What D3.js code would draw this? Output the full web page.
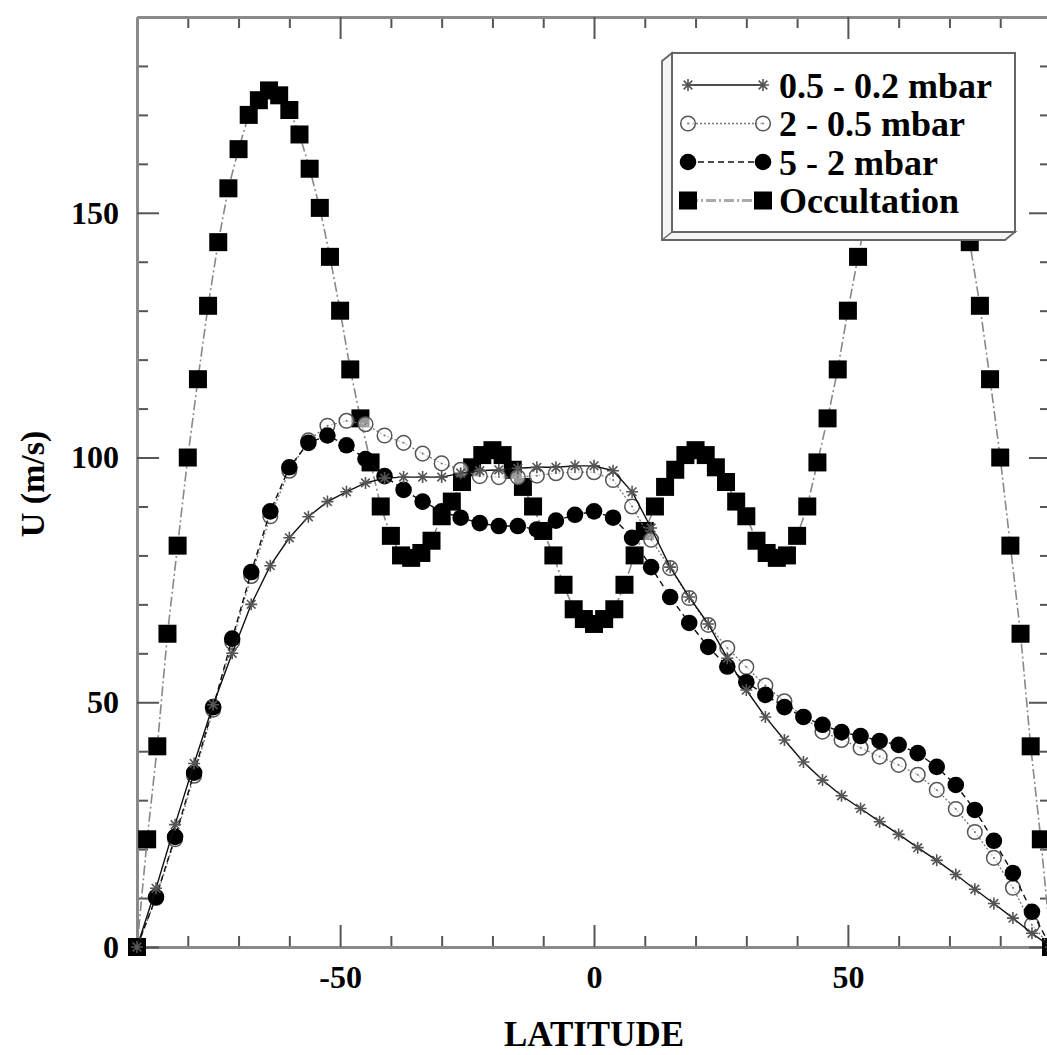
<!DOCTYPE html>
<html>
<head>
<meta charset="utf-8">
<script src="https://cdn.jsdelivr.net/npm/d3@7"></script>
<style>
  html, body { margin: 0; padding: 0; background: #fff; }
  svg { display: block; }
  text { font-family: "Liberation Serif", "DejaVu Serif", serif; font-weight: bold; fill: #000; }
</style>
</head>
<body>
<script>
// latitude grid of the three retrieved levels (every 3.75 deg)
const latLevels = [-90, -86.25, -82.5, -78.75, -75, -71.25, -67.5, -63.75, -60, -56.25, -52.5, -48.75,
  -45, -41.25, -37.5, -33.75, -30, -26.25, -22.5, -18.75, -15, -11.25, -7.5, -3.75,
  0, 3.75, 7.5, 11.25, 15, 18.75, 22.5, 26.25, 30, 33.75, 37.5, 41.25,
  45, 48.75, 52.5, 56.25, 60, 63.75, 67.5, 71.25, 75, 78.75, 82.5, 86.25, 90];

const u02 = [0, 12, 25, 37.5, 49.5, 60, 70, 77.9, 83.6, 87.9, 91, 93,
  94.8, 95.8, 96, 96, 96, 96.8, 97.3, 97.5, 97.8, 98, 98, 98.3,
  98.3, 97.3, 93, 85.6, 77.6, 71.5, 66, 59, 52.5, 47, 42.3, 37.8,
  34.1, 30.9, 28.3, 25.6, 23, 20.3, 17.7, 14.8, 11.8, 8.9, 5.9, 2.8, 0];

const u05 = [0, 10, 22, 35, 48.5, 62.3, 75.8, 88, 97.3, 103.5, 106.5, 107.5,
  106.8, 104.5, 103, 100.8, 98.8, 97.5, 96.2, 96, 96, 96.3, 96.8, 97,
  97, 95.4, 90, 83.2, 77.4, 71.3, 65.8, 61.1, 57.2, 53.4, 50.2, 47,
  44, 42.3, 40.7, 38.9, 37.2, 35.2, 32.1, 28.2, 23.5, 18.2, 12.1, 4.5, 0];

const u2 = [0, 10.2, 22.5, 35.6, 49, 63, 76.6, 89, 98, 103, 104.5, 102.5,
  99.7, 96.2, 93.4, 91, 89, 87.7, 86.6, 86, 86, 85.3, 87.1, 88.3,
  89, 87.7, 83.6, 77.6, 71.5, 66.2, 61.3, 57.3, 54.1, 51.5, 49, 47,
  45.4, 43.9, 43.1, 42.1, 41.3, 39.6, 36.8, 33.1, 28, 21.7, 15.1, 7.2, 0];

// occultation profile (every 2 deg)
const latOcc = [-90, -88, -86, -84, -82, -80, -78, -76, -74, -72, -70, -68, -66, -64, -62, -60,
  -58, -56, -54, -52, -50, -48, -46, -44, -42, -40, -38, -36, -34, -32, -30, -28, -26, -24,
  -22, -20, -18, -16, -14, -12, -10, -8, -6, -4, -2, 0, 2, 4, 6, 8, 10, 12, 14, 16, 18, 20,
  22, 24, 26, 28, 30, 32, 34, 36, 38, 40, 42, 44, 46, 48, 50, 52, 54, 56, 58, 60, 62, 64,
  66, 68, 70, 72, 74, 76, 78, 80, 82, 84, 86, 88, 90];
const uOcc = [0, 22, 41, 64, 82, 100, 116, 131, 144, 155, 163, 170, 173, 175, 174, 171,
  166, 159, 151, 141, 130, 118, 108, 99, 90, 84, 80, 79.5, 80.5, 83, 88, 91, 95, 98,
  100.5, 101.5, 100.5, 97.5, 94, 90, 85, 80, 74, 69, 67, 66, 67, 69, 74, 80, 85, 90, 94, 97.5, 100.5, 101.5,
  100.5, 98, 95, 91, 88, 83, 80.5, 79.5, 80, 84, 90, 99, 108, 118, 130, 141, 151, 159, 166, 171, 174, 175,
  173, 170, 163, 155, 144, 131, 116, 100, 82, 64, 41, 22, 0];

const xMajor = [-50, 0, 50];
const xMinor = [-80, -70, -60, -40, -30, -20, -10, 10, 20, 30, 40, 60, 70, 80];
const yMajor = [0, 50, 100, 150];
const yMinor = [10, 20, 30, 40, 60, 70, 80, 90, 110, 120, 130, 140, 160, 170, 180];

const legendNames = ["0.5 - 0.2 mbar", "2 - 0.5 mbar", "5 - 2 mbar", "Occultation"];

const W = 1047, H = 1055;
const pLeft = 137, pRight = 1051, pTop = 17, pBottom = 947;

const svg = d3.select("body").append("svg")
  .attr("width", W).attr("height", H);

const x = d3.scaleLinear().domain([-90, 90]).range([pLeft, pRight]);
const y = d3.scaleLinear().domain([0, 190]).range([pBottom, pTop]);

// ---- axes (ticks point inward on all four sides)
function styleAxis(g) {
  g.select(".domain").attr("stroke", "#8a8a8a").attr("stroke-width", 3);
  g.selectAll(".tick line").attr("stroke", "#555").attr("stroke-width", 2);
  g.selectAll(".tick text").style("font-size", "32px").attr("fill", "#000")
    .style("font-family", '"Liberation Serif", serif').style("font-weight", "bold");
}

// plain hyphen for negatives, like the original plot
const fmt = d => String(d);

svg.append("g").attr("transform", `translate(0,${pBottom})`)
  .call(d3.axisBottom(x).tickValues(xMinor).tickSize(-11).tickSizeOuter(0).tickFormat(""))
  .call(styleAxis);
svg.append("g").attr("transform", `translate(0,${pBottom})`)
  .call(d3.axisBottom(x).tickValues(xMajor).tickSize(-22).tickSizeOuter(0).tickPadding(18).tickFormat(fmt))
  .call(styleAxis);
svg.append("g").attr("transform", `translate(0,${pTop})`)
  .call(d3.axisTop(x).tickValues(xMinor).tickSize(-11).tickSizeOuter(0).tickFormat(""))
  .call(styleAxis);
svg.append("g").attr("transform", `translate(0,${pTop})`)
  .call(d3.axisTop(x).tickValues(xMajor).tickSize(-22).tickSizeOuter(0).tickFormat(""))
  .call(styleAxis);

svg.append("g").attr("transform", `translate(${pLeft},0)`)
  .call(d3.axisLeft(y).tickValues(yMinor).tickSize(-11).tickSizeOuter(0).tickFormat(""))
  .call(styleAxis);
svg.append("g").attr("transform", `translate(${pLeft},0)`)
  .call(d3.axisLeft(y).tickValues(yMajor).tickSize(-22).tickSizeOuter(0).tickPadding(18).tickFormat(fmt))
  .call(styleAxis);
svg.append("g").attr("transform", `translate(${pRight},0)`)
  .call(d3.axisRight(y).tickValues(yMinor).tickSize(-11).tickSizeOuter(0).tickFormat(""))
  .call(styleAxis);
svg.append("g").attr("transform", `translate(${pRight},0)`)
  .call(d3.axisRight(y).tickValues(yMajor).tickSize(-22).tickSizeOuter(0).tickFormat(""))
  .call(styleAxis);

// axis titles
svg.append("text").attr("x", 594).attr("y", 1046).attr("text-anchor", "middle")
  .style("font-size", "35px").text("LATITUDE");
svg.append("text").attr("transform", "translate(44,484) rotate(-90)").attr("text-anchor", "middle")
  .style("font-size", "34px").text("U (m/s)");

// ---- series
const series = [
  { name: legendNames[0], lat: latLevels, u: u02, marker: "star", stroke: "#111", width: 1.4, dash: null },
  { name: legendNames[1], lat: latLevels, u: u05, marker: "open", stroke: "#777", width: 1.3, dash: "2,2" },
  { name: legendNames[2], lat: latLevels, u: u2, marker: "dot", stroke: "#111", width: 1.4, dash: "6,4" },
  { name: legendNames[3], lat: latOcc, u: uOcc, marker: "square", stroke: "#888", width: 1.6, dash: "10,3,2,3" }
];

const line = d3.line().x(d => x(d[0])).y(d => y(d[1]));

function drawMarker(g, kind, cx, cy) {
  if (kind === "star") {
    const r = 6, q = r * 0.72;
    g.append("path")
      .attr("d", `M${cx - r},${cy}H${cx + r}M${cx},${cy - r}V${cy + r}` +
        `M${cx - q},${cy - q}L${cx + q},${cy + q}M${cx - q},${cy + q}L${cx + q},${cy - q}`)
      .attr("stroke", "#555").attr("stroke-width", 1.6).attr("fill", "none");
  } else if (kind === "open") {
    g.append("circle").attr("cx", cx).attr("cy", cy).attr("r", 7.3)
      .attr("fill", "#fff").attr("fill-opacity", 0.6).attr("stroke", "#555").attr("stroke-width", 1.5);
    g.append("circle").attr("cx", cx).attr("cy", cy).attr("r", 1).attr("fill", "#777");
  } else if (kind === "dot") {
    g.append("circle").attr("cx", cx).attr("cy", cy).attr("r", 8.3).attr("fill", "#000");
  } else {
    g.append("rect").attr("x", cx - 9).attr("y", cy - 9).attr("width", 18).attr("height", 18).attr("fill", "#000");
  }
}

const drawOrder = [3, 1, 2, 0];
drawOrder.forEach(i => {
  const s = series[i];
  const pts = s.lat.map((l, j) => [l, s.u[j]]);
  const g = svg.append("g");
  g.append("path").datum(pts).attr("d", line)
    .attr("fill", "none").attr("stroke", s.stroke).attr("stroke-width", s.width)
    .attr("stroke-dasharray", s.dash);
  pts.forEach(p => drawMarker(g, s.marker, x(p[0]), y(p[1])));
});

// ---- legend (box with a 3-D edge to the lower left)
const lg = svg.append("g");
const bx = 672, by = 53, bw = 343, bh = 179, dx = -10, dy = 8;
lg.append("path")
  .attr("d", `M${bx},${by}L${bx + dx},${by + dy}V${by + bh + dy}H${bx + bw + dx}L${bx + bw},${by + bh}H${bx}Z`)
  .attr("fill", "#f4f4f4").attr("stroke", "#666").attr("stroke-width", 1.8);
lg.append("line").attr("x1", bx).attr("y1", by + bh).attr("x2", bx + dx).attr("y2", by + bh + dy)
  .attr("stroke", "#666").attr("stroke-width", 1.5);
lg.append("rect").attr("x", bx).attr("y", by).attr("width", bw).attr("height", bh)
  .attr("fill", "#fff").attr("stroke", "#666").attr("stroke-width", 2);

series.forEach((s, i) => {
  const yy = 85 + i * 38.5;
  lg.append("line").attr("x1", 688).attr("x2", 763).attr("y1", yy).attr("y2", yy)
    .attr("stroke-width", i === 3 ? 3 : s.width).attr("stroke-dasharray", s.dash)
    .attr("stroke", i === 3 ? "#aaa" : s.stroke);
  drawMarker(lg, s.marker, 688, yy);
  drawMarker(lg, s.marker, 763, yy);
  lg.append("text").attr("x", 779).attr("y", yy).attr("dy", "0.35em")
    .style("font-size", "36px").text(s.name);
});
</script>
</body>
</html>
